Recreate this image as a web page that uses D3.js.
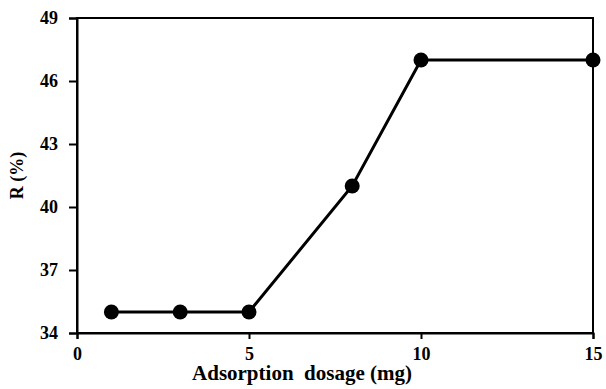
<!DOCTYPE html>
<html>
<head>
<meta charset="utf-8">
<script src="https://cdn.jsdelivr.net/npm/d3@7"></script>
<style>
  body { margin: 0; background: #fff; }
  svg text { font-family: "Liberation Serif", "Times New Roman", serif; font-weight: bold; fill: #000; }
</style>
</head>
<body>
<div id="chart"></div>
<script>
// data
const dosage = [1, 3, 5, 8, 10, 15];
const removal = [35, 35, 35, 41, 47, 47];
const xTicks = [0, 5, 10, 15];
const yTicks = [34, 37, 40, 43, 46, 49];

const margin = { top: 18, right: 13, bottom: 56, left: 77 };
const width = 606 - margin.left - margin.right;
const height = 389 - margin.top - margin.bottom;

const svg = d3.select("#chart")
  .append("svg")
  .attr("width", 606)
  .attr("height", 389)
  .append("g")
  .attr("transform", "translate(" + margin.left + "," + margin.top + ")");

const x = d3.scaleLinear().domain([0, 15]).range([0, width]);
const y = d3.scaleLinear().domain([34, 49]).range([height, 0]);

// frame
svg.append("rect")
  .attr("width", width)
  .attr("height", height)
  .attr("fill", "none")
  .attr("stroke", "#000")
  .attr("stroke-width", 2);

const xAxis = svg.append("g")
  .attr("transform", "translate(0," + height + ")")
  .call(d3.axisBottom(x).tickValues(xTicks).tickSize(6).tickPadding(8));
const yAxis = svg.append("g")
  .call(d3.axisLeft(y).tickValues(yTicks).tickSize(8).tickPadding(11));

[xAxis, yAxis].forEach(function (g) {
  g.attr("font-family", "Liberation Serif").attr("font-size", 18).attr("font-weight", "bold");
  g.select(".domain").attr("stroke-width", 2);
  g.selectAll(".tick line").attr("stroke-width", 2);
  g.selectAll("text").style("font-size", "18px");
});

const pts = dosage.map(function (d, i) { return { x: d, y: removal[i] }; });

svg.append("path")
  .datum(pts)
  .attr("fill", "none")
  .attr("stroke", "#000")
  .attr("stroke-width", 3)
  .attr("d", d3.line().x(function (d) { return x(d.x); }).y(function (d) { return y(d.y); }));

svg.selectAll(".dot")
  .data(pts)
  .enter().append("circle")
  .attr("cx", function (d) { return x(d.x); })
  .attr("cy", function (d) { return y(d.y); })
  .attr("r", 7.5)
  .attr("fill", "#000");

// axis titles
svg.append("text")
  .attr("text-anchor", "middle")
  .attr("x", 225)
  .attr("y", height + 47)
  .style("font-size", "21px")
  .style("white-space", "pre")
  .text("Adsorption  dosage (mg)");

svg.append("text")
  .attr("text-anchor", "middle")
  .attr("transform", "translate(-54," + (height / 2) + ") rotate(-90)")
  .style("font-size", "18px")
  .text("R (%)");
</script>
</body>
</html>
